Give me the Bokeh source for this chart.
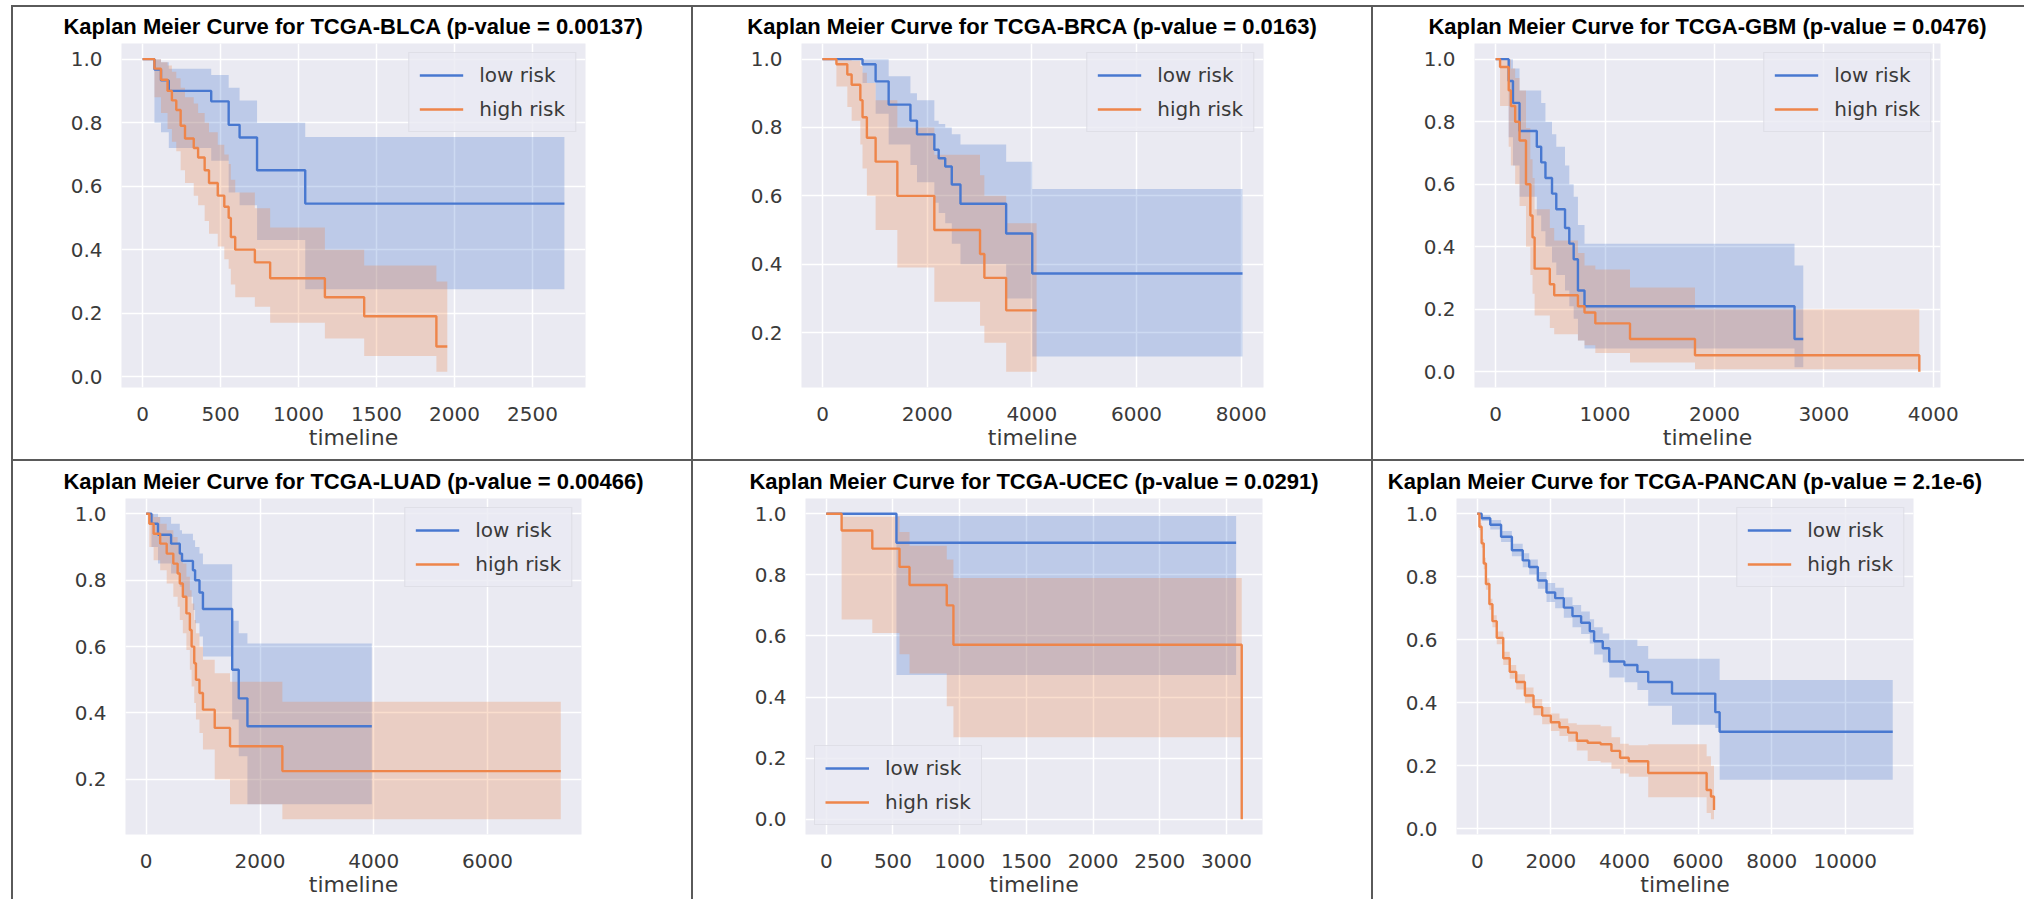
from bokeh.plotting import figure
from bokeh.models import FixedTicker, PrintfTickFormatter, Legend, LegendItem, Div, Range1d
from bokeh.layouts import row, column
from bokeh.embed import file_html
from bokeh.resources import INLINE

BLUE = "#4878D0"
ORANGE = "#EE854A"
BG = "#EAEAF2"
TXT = "#3a3a3a"
LINE = "#5a5a5a"

series_labels = ["low risk", "high risk"]

# ---------------- TCGA-BLCA ----------------
blca_title = "Kaplan Meier Curve for TCGA-BLCA (p-value = 0.00137)"
blca_xticks = [0, 500, 1000, 1500, 2000, 2500]
blca_low_t = [0, 76, 118, 168, 440, 552, 622, 734, 1043, 2705]
blca_low_s = [1.0, 0.967, 0.933, 0.900, 0.867, 0.793, 0.753, 0.650, 0.545, 0.545]
blca_low_up = [1.0, 1.0, 0.99, 0.97, 0.95, 0.91, 0.87, 0.80, 0.755, 0.755]
blca_low_lo = [1.0, 0.80, 0.77, 0.72, 0.68, 0.58, 0.54, 0.43, 0.275, 0.275]
blca_high_t = [0, 76, 118, 160, 188, 216, 244, 272, 328, 356, 398, 426, 482, 524, 552, 566, 594, 720, 818, 1169, 1421, 1884, 1954]
blca_high_s = [1.0, 0.97, 0.935, 0.90, 0.87, 0.84, 0.79, 0.75, 0.72, 0.69, 0.65, 0.61, 0.57, 0.535, 0.50, 0.44, 0.40, 0.36, 0.31, 0.25, 0.19, 0.095, 0.095]
blca_high_up = [1.0, 1.0, 0.99, 0.98, 0.96, 0.94, 0.91, 0.88, 0.86, 0.83, 0.80, 0.77, 0.73, 0.70, 0.67, 0.62, 0.58, 0.53, 0.47, 0.40, 0.35, 0.30, 0.30]
blca_high_lo = [1.0, 0.88, 0.83, 0.78, 0.74, 0.71, 0.65, 0.61, 0.57, 0.54, 0.49, 0.45, 0.41, 0.37, 0.34, 0.29, 0.25, 0.22, 0.17, 0.12, 0.065, 0.015, 0.015]

# ---------------- TCGA-BRCA ----------------
brca_title = "Kaplan Meier Curve for TCGA-BRCA (p-value = 0.0163)"
brca_xticks = [0, 2000, 4000, 6000, 8000]
brca_low_t = [0, 765, 1015, 1264, 1680, 1805, 2137, 2220, 2345, 2470, 2636, 3509, 4008, 8025]
brca_low_s = [1.0, 0.985, 0.935, 0.867, 0.82, 0.78, 0.735, 0.71, 0.686, 0.633, 0.577, 0.49, 0.373, 0.373]
brca_low_up = [1.0, 1.0, 1.0, 0.95, 0.90, 0.88, 0.82, 0.81, 0.80, 0.78, 0.75, 0.70, 0.62, 0.62]
brca_low_lo = [1.0, 0.93, 0.84, 0.75, 0.69, 0.64, 0.58, 0.55, 0.52, 0.46, 0.40, 0.30, 0.13, 0.13]
brca_high_t = [0, 266, 474, 557, 723, 765, 848, 1015, 1430, 2137, 3010, 3093, 3509, 4091]
brca_high_s = [1.0, 0.985, 0.955, 0.925, 0.88, 0.83, 0.77, 0.70, 0.60, 0.50, 0.43, 0.36, 0.265, 0.265]
brca_high_up = [1.0, 1.0, 1.0, 0.995, 0.98, 0.96, 0.93, 0.88, 0.80, 0.72, 0.66, 0.60, 0.52, 0.52]
brca_high_lo = [1.0, 0.92, 0.86, 0.82, 0.75, 0.68, 0.60, 0.50, 0.39, 0.29, 0.22, 0.17, 0.085, 0.085]

# ---------------- TCGA-GBM ----------------
gbm_title = "Kaplan Meier Curve for TCGA-GBM (p-value = 0.0476)"
gbm_xticks = [0, 1000, 2000, 3000, 4000]
gbm_low_t = [0, 119, 158, 218, 376, 416, 455, 515, 554, 634, 673, 713, 752, 812, 2732, 2812]
gbm_low_s = [1.0, 0.93, 0.86, 0.77, 0.72, 0.67, 0.62, 0.57, 0.52, 0.46, 0.41, 0.36, 0.26, 0.21, 0.105, 0.105]
gbm_low_up = [1.0, 1.0, 0.97, 0.90, 0.90, 0.86, 0.80, 0.76, 0.72, 0.66, 0.60, 0.56, 0.47, 0.41, 0.34, 0.34]
gbm_low_lo = [1.0, 0.75, 0.66, 0.56, 0.50, 0.45, 0.40, 0.35, 0.31, 0.26, 0.21, 0.17, 0.10, 0.075, 0.015, 0.015]
gbm_high_t = [0, 40, 119, 139, 178, 218, 277, 317, 337, 356, 495, 535, 752, 812, 911, 1228, 1822, 3873]
gbm_high_s = [1.0, 0.975, 0.90, 0.85, 0.80, 0.74, 0.60, 0.50, 0.43, 0.33, 0.28, 0.245, 0.21, 0.19, 0.155, 0.105, 0.053, 0.0]
gbm_high_up = [1.0, 1.0, 1.0, 0.97, 0.94, 0.90, 0.78, 0.68, 0.62, 0.52, 0.46, 0.42, 0.38, 0.34, 0.327, 0.27, 0.20, 0.20]
gbm_high_lo = [1.0, 0.85, 0.72, 0.66, 0.60, 0.53, 0.40, 0.31, 0.25, 0.18, 0.14, 0.12, 0.10, 0.085, 0.06, 0.03, 0.008, 0.008]

# ---------------- TCGA-LUAD ----------------
luad_title = "Kaplan Meier Curve for TCGA-LUAD (p-value = 0.00466)"
luad_xticks = [0, 2000, 4000, 6000]
luad_low_t = [0, 92, 207, 437, 590, 629, 821, 859, 936, 997, 1511, 1626, 1779, 3965]
luad_low_s = [1.0, 0.97, 0.937, 0.91, 0.88, 0.858, 0.83, 0.80, 0.763, 0.713, 0.53, 0.444, 0.36, 0.36]
luad_low_up = [1.0, 1.0, 0.99, 0.97, 0.95, 0.94, 0.92, 0.90, 0.88, 0.848, 0.678, 0.64, 0.609, 0.609]
luad_low_lo = [1.0, 0.90, 0.85, 0.82, 0.78, 0.75, 0.71, 0.67, 0.63, 0.57, 0.38, 0.27, 0.125, 0.125]
luad_high_t = [0, 54, 130, 245, 360, 476, 552, 590, 644, 706, 767, 798, 844, 874, 936, 997, 1204, 1473, 2393, 7287]
luad_high_s = [1.0, 0.97, 0.94, 0.91, 0.88, 0.85, 0.82, 0.79, 0.75, 0.70, 0.65, 0.60, 0.55, 0.50, 0.46, 0.41, 0.355, 0.30, 0.225, 0.225]
luad_high_up = [1.0, 1.0, 0.99, 0.97, 0.95, 0.93, 0.91, 0.88, 0.85, 0.81, 0.77, 0.73, 0.68, 0.64, 0.60, 0.56, 0.52, 0.494, 0.434, 0.434]
luad_high_lo = [1.0, 0.90, 0.86, 0.83, 0.79, 0.75, 0.72, 0.68, 0.64, 0.59, 0.53, 0.48, 0.43, 0.38, 0.34, 0.29, 0.20, 0.125, 0.08, 0.08]

# ---------------- TCGA-UCEC ----------------
ucec_title = "Kaplan Meier Curve for TCGA-UCEC (p-value = 0.0291)"
ucec_xticks = [0, 500, 1000, 1500, 2000, 2500, 3000]
ucec_low_t = [0, 526, 3072]
ucec_low_s = [1.0, 0.905, 0.905]
ucec_low_up = [1.0, 0.993, 0.993]
ucec_low_lo = [1.0, 0.472, 0.472]
ucec_high_t = [0, 115, 345, 549, 624, 903, 953, 3114]
ucec_high_s = [1.0, 0.945, 0.886, 0.826, 0.767, 0.70, 0.571, 0.0]
ucec_high_up = [1.0, 0.99, 0.99, 0.94, 0.895, 0.85, 0.79, 0.79]
ucec_high_lo = [1.0, 0.654, 0.61, 0.54, 0.477, 0.37, 0.268, 0.268]

# ---------------- TCGA-PANCAN ----------------
pancan_title = "Kaplan Meier Curve for TCGA-PANCAN (p-value = 2.1e-6)"
pancan_xticks = [0, 2000, 4000, 6000, 8000, 10000]
pancan_low_t = [0, 118, 353, 647, 941, 1235, 1411, 1646, 1882, 2117, 2352, 2587, 2822, 3058, 3175, 3410, 3587, 3998, 4351, 4645, 5292, 6468, 6586, 11290]
pancan_low_s = [1.0, 0.986, 0.965, 0.927, 0.884, 0.852, 0.831, 0.788, 0.750, 0.732, 0.702, 0.675, 0.654, 0.627, 0.595, 0.573, 0.531, 0.520, 0.498, 0.466, 0.429, 0.370, 0.308, 0.308]
pancan_low_up = [1.0, 0.995, 0.98, 0.945, 0.905, 0.875, 0.855, 0.815, 0.78, 0.765, 0.735, 0.71, 0.69, 0.665, 0.64, 0.62, 0.60, 0.60, 0.58, 0.54, 0.54, 0.54, 0.472, 0.472]
pancan_low_lo = [1.0, 0.977, 0.95, 0.91, 0.865, 0.83, 0.807, 0.762, 0.72, 0.70, 0.67, 0.64, 0.618, 0.588, 0.553, 0.528, 0.48, 0.465, 0.44, 0.39, 0.33, 0.32, 0.155, 0.155]
pancan_high_t = [0, 59, 118, 176, 235, 329, 412, 529, 706, 882, 1058, 1294, 1529, 1764, 1999, 2234, 2470, 2705, 2999, 3352, 3646, 3881, 4116, 4645, 6233, 6350, 6433]
pancan_high_s = [1.0, 0.959, 0.906, 0.842, 0.777, 0.713, 0.659, 0.606, 0.541, 0.498, 0.466, 0.423, 0.386, 0.359, 0.338, 0.322, 0.305, 0.279, 0.273, 0.268, 0.247, 0.225, 0.214, 0.177, 0.123, 0.102, 0.059]
pancan_high_up = [1.0, 0.97, 0.92, 0.86, 0.795, 0.73, 0.678, 0.626, 0.562, 0.52, 0.49, 0.448, 0.412, 0.386, 0.366, 0.35, 0.335, 0.33, 0.33, 0.325, 0.29, 0.27, 0.265, 0.268, 0.23, 0.20, 0.16]
pancan_high_lo = [1.0, 0.948, 0.892, 0.824, 0.759, 0.695, 0.64, 0.586, 0.52, 0.476, 0.442, 0.398, 0.36, 0.332, 0.31, 0.294, 0.276, 0.248, 0.215, 0.21, 0.19, 0.175, 0.165, 0.10, 0.05, 0.03, 0.03]

Y_TICKS = [0.0, 0.2, 0.4, 0.6, 0.8, 1.0]


def panel(title, low, high, xticks, legend_loc, w, h, left, top, fw, fh):
    tmax = max(low[0][-1], high[0][-1])
    ymin = min(min(low[1]), min(low[3]), min(high[1]), min(high[3]))
    ymax = max(max(low[2]), max(high[2]), 1.0)
    ypad = 0.05 * (ymax - ymin)
    p = figure(
        frame_width=fw, frame_height=fh,
        min_border_left=left, min_border_top=top,
        min_border_right=w - left - fw, min_border_bottom=h - top - fh,
        x_range=Range1d(-0.05 * tmax, 1.05 * tmax),
        y_range=Range1d(ymin - ypad, ymax + ypad),
        output_backend="svg", toolbar_location=None,
        background_fill_color=BG, border_fill_color="white",
        outline_line_color=None,
    )
    p.title.text = title
    p.title.align = "center"
    p.title.text_font = "Liberation Sans"
    p.title.text_font_style = "bold"
    p.title.text_font_size = "22px"
    p.title.text_color = "black"
    p.title.standoff = 9

    renderers = []
    for (t, s, up, lo), col in zip((low, high), (BLUE, ORANGE)):
        p.varea_step(x=t, y1=lo, y2=up, step_mode="after", fill_color=col, fill_alpha=0.27)
    for (t, s, up, lo), col in zip((low, high), (BLUE, ORANGE)):
        r = p.step(x=t, y=s, mode="after", line_color=col, line_width=2.4)
        renderers.append(r)

    p.xaxis.ticker = FixedTicker(ticks=xticks)
    p.yaxis.ticker = FixedTicker(ticks=Y_TICKS)
    p.yaxis.formatter = PrintfTickFormatter(format="%.1f")
    p.xaxis.formatter = PrintfTickFormatter(format="%d")
    p.xaxis.axis_label = "timeline"
    for ax in (p.xaxis, p.yaxis):
        ax.axis_line_color = None
        ax.major_tick_line_color = None
        ax.minor_tick_line_color = None
        ax.major_label_text_font = "DejaVu Sans"
        ax.major_label_text_font_size = "20px"
        ax.major_label_text_color = TXT
        ax.major_label_standoff = 13
    p.xaxis.axis_label_text_font = "DejaVu Sans"
    p.xaxis.axis_label_text_font_size = "22px"
    p.xaxis.axis_label_text_font_style = "normal"
    p.xaxis.axis_label_text_color = TXT
    p.xaxis.axis_label_standoff = 1
    p.grid.grid_line_color = "white"
    p.grid.grid_line_width = 1.5

    legend = Legend(
        items=[LegendItem(label=series_labels[i], renderers=[renderers[i]]) for i in range(2)],
        location=legend_loc, margin=9, padding=10, spacing=10,
        glyph_width=44, glyph_height=22, label_height=22, label_standoff=16,
        label_text_font="DejaVu Sans", label_text_font_size="20px", label_text_color=TXT,
        background_fill_color=BG, background_fill_alpha=0.8,
        border_line_color="#d4d4dc", border_line_width=1,
    )
    p.add_layout(legend)
    return p


def bar(w, h):
    return Div(width=w, height=h, margin=(0, 0, 0, 0), styles={"background-color": LINE})


def gap(w, h):
    return Div(width=w, height=h, margin=(0, 0, 0, 0))


H1, H2 = 452, 438
p1 = panel(blca_title, (blca_low_t, blca_low_s, blca_low_up, blca_low_lo),
           (blca_high_t, blca_high_s, blca_high_up, blca_high_lo), blca_xticks, "top_right",
           678, H1, 108, 36, 464, 344)
p2 = panel(brca_title, (brca_low_t, brca_low_s, brca_low_up, brca_low_lo),
           (brca_high_t, brca_high_s, brca_high_up, brca_high_lo), brca_xticks, "top_right",
           678, H1, 108, 36, 462, 344)
p3 = panel(gbm_title, (gbm_low_t, gbm_low_s, gbm_low_up, gbm_low_lo),
           (gbm_high_t, gbm_high_s, gbm_high_up, gbm_high_lo), gbm_xticks, "top_right",
           651, H1, 101, 36, 466, 344)
p4 = panel(luad_title, (luad_low_t, luad_low_s, luad_low_up, luad_low_lo),
           (luad_high_t, luad_high_s, luad_high_up, luad_high_lo), luad_xticks, "top_right",
           678, H2, 112, 37, 456, 336)
p5 = panel(ucec_title, (ucec_low_t, ucec_low_s, ucec_low_up, ucec_low_lo),
           (ucec_high_t, ucec_high_s, ucec_high_up, ucec_high_lo), ucec_xticks, "bottom_left",
           678, H2, 112, 37, 457, 336)
p6 = panel(pancan_title, (pancan_low_t, pancan_low_s, pancan_low_up, pancan_low_lo),
           (pancan_high_t, pancan_high_s, pancan_high_up, pancan_high_lo), pancan_xticks, "top_right",
           651, H2, 83, 37, 457, 336)

top_row = row(gap(11, 2), bar(2013, 2))
row1 = row(gap(11, H1), bar(2, H1), p1, bar(2, H1), p2, bar(2, H1), p3)
mid_row = row(gap(11, 2), bar(2013, 2))
row2 = row(gap(11, H2), bar(2, H2), p4, bar(2, H2), p5, bar(2, H2), p6)
layout = column(gap(2024, 5), top_row, row1, mid_row, row2)

open("out.html", "w").write(file_html(layout, INLINE))
